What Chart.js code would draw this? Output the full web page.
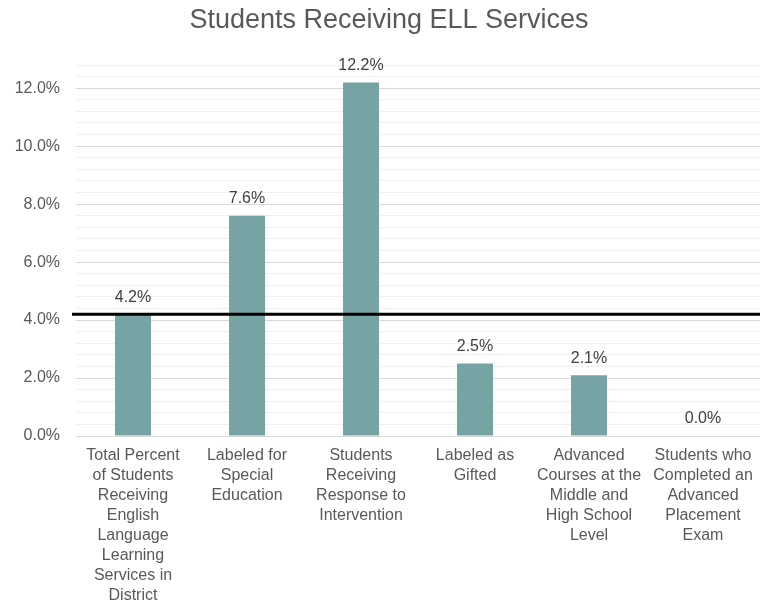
<!DOCTYPE html>
<html>
<head>
<meta charset="utf-8">
<script src="https://cdn.jsdelivr.net/npm/chart.js@4.4.1/dist/chart.umd.min.js"></script>
<style>
  html, body { margin: 0; padding: 0; background: #ffffff; }
  #wrap { width: 760px; height: 606px; }
</style>
</head>
<body>
<div id="wrap"><canvas id="chart" width="760" height="606"></canvas></div>
<script>
// Chart heading
const chartTitle = 'Students Receiving ELL Services';

// Category labels, one array per bar (each entry is a wrapped line)
const categories = [
  ["Total Percent", "of Students", "Receiving", "English", "Language", "Learning", "Services in", "District"],
  ["Labeled for", "Special", "Education"],
  ["Students", "Receiving", "Response to", "Intervention"],
  ["Labeled as", "Gifted"],
  ["Advanced", "Courses at the", "Middle and", "High School", "Level"],
  ["Students who", "Completed an", "Advanced", "Placement", "Exam"]
];

// Percent of ELL students in each group
const ellPercent = [4.2, 7.6, 12.2, 2.5, 2.1, 0.0];

// District-wide ELL share, drawn as a reference line
const districtShare = 4.2;

// Value axis range and steps (labels every 2%, light lines every 0.4%)
const yMin = 0;
const yMax = 12.8;
const yStep = 0.4;
const yLabelEvery = 2;

const FONT = '"Liberation Sans", Arial, Helvetica, sans-serif';

const isLabelTick = (v) => Math.abs(v / yLabelEvery - Math.round(v / yLabelEvery)) < 1e-6;

// Heading, drawn slightly right of the canvas centre
const heading = {
  id: 'heading',
  afterDraw(chart) {
    const { ctx } = chart;
    ctx.save();
    ctx.font = '27px ' + FONT;
    ctx.fillStyle = '#595959';
    ctx.textAlign = 'center';
    ctx.textBaseline = 'middle';
    ctx.fillText(chartTitle, 389, 21);
    ctx.restore();
  }
};

const valueLabels = {
  id: 'valueLabels',
  afterDatasetsDraw(chart) {
    const { ctx } = chart;
    const meta = chart.getDatasetMeta(0);
    ctx.save();
    ctx.font = '16px ' + FONT;
    ctx.fillStyle = '#404040';
    ctx.textAlign = 'center';
    ctx.textBaseline = 'middle';
    meta.data.forEach((bar, i) => {
      const v = chart.data.datasets[0].data[i];
      ctx.fillText(v.toFixed(1) + '%', bar.x, bar.y - 17);
    });
    ctx.restore();
  }
};

const districtLine = {
  id: 'districtLine',
  afterDatasetsDraw(chart) {
    const { ctx, chartArea } = chart;
    const y = chart.scales.y.getPixelForValue(districtShare);
    ctx.save();
    ctx.strokeStyle = '#000000';
    ctx.lineWidth = 3;
    ctx.beginPath();
    ctx.moveTo(chartArea.left - 4, y);
    ctx.lineTo(chart.width, y);
    ctx.stroke();
    ctx.restore();
  }
};

new Chart(document.getElementById('chart'), {
  type: 'bar',
  data: {
    labels: categories,
    datasets: [{
      data: ellPercent,
      backgroundColor: '#76a4a4',
      borderWidth: 0,
      barPercentage: 0.316,
      categoryPercentage: 1.0
    }]
  },
  options: {
    responsive: false,
    animation: false,
    layout: { padding: { left: 0, right: 0, top: 65, bottom: 0 } },
    plugins: {
      legend: { display: false },
      tooltip: { enabled: false },
      title: { display: false }
    },
    scales: {
      x: {
        grid: { display: false, drawTicks: false },
        border: { display: true, color: '#d9d9d9', width: 1 },
        ticks: {
          autoSkip: false,
          maxRotation: 0,
          minRotation: 0,
          padding: 10,
          color: '#595959',
          font: { family: FONT, size: 16, lineHeight: 1.25 }
        },
        afterFit(scale) {
          scale.height = 170;
          scale.paddingLeft = 0;
          scale.paddingRight = 0;
        }
      },
      y: {
        min: yMin,
        max: yMax,
        border: { display: false },
        grid: {
          drawTicks: false,
          color: (c) => isLabelTick(c.tick.value) ? '#d9d9d9' : '#efefef',
          lineWidth: 1
        },
        ticks: {
          stepSize: yStep,
          autoSkip: false,
          padding: 16,
          color: '#595959',
          font: { family: FONT, size: 16 },
          callback: (v) => isLabelTick(v) ? v.toFixed(1) + '%' : ''
        },
        afterFit(scale) { scale.width = 76; }
      }
    }
  },
  plugins: [heading, valueLabels, districtLine]
});
</script>
</body>
</html>
